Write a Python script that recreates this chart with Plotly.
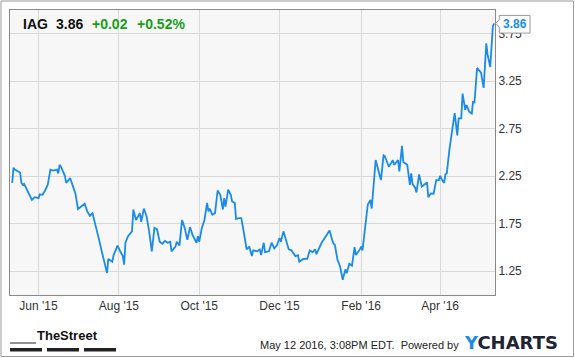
import plotly.graph_objects as go
import pandas as pd

# ---- data ----
base_date = "2015-05-12"
day_offsets = [
    0, 1, 2, 6, 7, 8, 9, 12, 15, 17, 20, 21, 23, 25, 27, 29, 31, 34, 35, 36, 37, 40, 41, 44, 46, 48, 50, 52, 55, 57, 59, 61,
    64, 66, 68, 70, 72, 73, 76, 77, 80, 82, 84, 85, 86, 88, 91, 92, 94, 97, 98, 100, 102, 104, 106, 108, 110, 112, 114, 116, 118, 120, 121, 124,
    125, 127, 129, 131, 133, 135, 137, 140, 141, 142, 144, 146, 148, 149, 150, 152, 154, 156, 158, 160, 161, 162, 164, 166, 167, 169, 170, 172, 174, 176, 178, 180, 182, 183,
    186, 188, 189, 191, 192, 195, 197, 199, 201, 203, 204, 206, 208, 210, 212, 215, 217, 218, 221, 224, 226, 228, 230, 231, 235, 238, 241, 243, 244,
    245, 247, 249, 251, 253, 254, 256, 258, 260, 261, 264, 265, 266, 269, 270, 272, 273, 276, 278, 280, 282, 283, 286, 287, 289, 290, 293, 294, 296, 297, 300, 302, 303, 304, 306,
    307, 309, 311, 313, 315, 316, 318, 320, 322, 324, 325, 326, 328, 329, 330, 332, 334, 336, 338, 339, 341, 342, 344, 345, 347, 349, 350, 351, 353, 355, 356, 358, 360, 361, 363, 365, 366,
]
prices = [
    2.18, 2.34, 2.32, 2.29, 2.18, 2.16, 2.17, 2.09, 2.00, 2.03, 2.02, 2.06, 2.055, 2.10, 2.16, 2.32, 2.31, 2.32, 2.28, 2.37, 2.35, 2.255, 2.18, 2.23, 2.16, 2.07, 1.905, 1.93, 1.96, 1.88, 1.834, 1.86,
    1.705, 1.58, 1.46, 1.35, 1.23, 1.38, 1.35, 1.42, 1.52, 1.46, 1.41, 1.32, 1.55, 1.62, 1.67, 1.90, 1.79, 1.86, 1.77, 1.91, 1.83, 1.67, 1.46, 1.705, 1.69, 1.56, 1.54, 1.57, 1.55, 1.56, 1.46, 1.51,
    1.56, 1.52, 1.79, 1.705, 1.58, 1.715, 1.63, 1.55, 1.62, 1.56, 1.705, 1.79, 1.97, 1.88, 1.91, 1.845, 1.86, 2.10, 2.055, 1.90, 2.02, 1.93, 2.11, 2.055, 1.985, 1.97, 1.80, 1.81, 1.81, 1.65, 1.48, 1.51, 1.41, 1.47,
    1.46, 1.48, 1.42, 1.55, 1.45, 1.46, 1.55, 1.49, 1.52, 1.60, 1.56, 1.67, 1.58, 1.48, 1.47, 1.41, 1.42, 1.35, 1.38, 1.38, 1.47, 1.45, 1.48, 1.43, 1.55, 1.62, 1.68, 1.58, 1.54,
    1.53, 1.37, 1.30, 1.16, 1.27, 1.23, 1.33, 1.31, 1.505, 1.42, 1.48, 1.51, 1.47, 1.86, 1.95, 2.00, 1.91, 2.42, 2.30, 2.21, 2.47, 2.46, 2.35, 2.37, 2.42, 2.37, 2.42, 2.30, 2.57, 2.40, 2.37, 2.16, 2.28, 2.17, 2.13,
    2.08, 2.27, 2.14, 2.16, 2.185, 2.03, 2.07, 2.066, 2.21, 2.21, 2.255, 2.22, 2.18, 2.27, 2.28, 2.53, 2.705, 2.915, 2.68, 2.86, 2.86, 3.12, 2.95, 3.00, 2.93, 2.91, 3.04, 3.02, 3.39, 3.36, 3.34, 3.18, 3.65, 3.53, 3.40, 3.83, 3.86,
]
x_tick_dates = ["2015-06-01", "2015-08-01", "2015-10-01", "2015-12-01", "2016-02-01", "2016-04-01"]
x_tick_labels = ["Jun '15", "Aug '15", "Oct '15", "Dec '15", "Feb '16", "Apr '16"]
y_tick_vals = [1.25, 1.75, 2.25, 2.75, 3.25, 3.75]
y_tick_labels = ["1.25", "1.75", "2.25", "2.75", "3.25", "3.75"]

ticker = "IAG"
last_price = "3.86"
change = "+0.02"
change_pct = "+0.52%"
last_value = 3.86
timestamp = "May 12 2016, 3:08PM EDT.  Powered by"

dates = pd.Timestamp(base_date) + pd.to_timedelta(day_offsets, unit="D")

BLUE = "#1a8be8"
GREEN = "#1a9e1a"
FONT = "Liberation Sans, Arial, sans-serif"

fig = go.Figure()
fig.add_trace(go.Scatter(x=dates, y=prices, mode="lines",
                         line=dict(color=BLUE, width=1.8), hoverinfo="skip"))

W, H = 575, 358
ml, mr, mt, mb = 10, 80, 10, 63
pw, ph = W - ml - mr, H - mt - mb

def px(xp):
    return (xp - ml) / pw

def py(yp):
    return (H - mb - yp) / ph

fig.update_layout(
    width=W, height=H,
    margin=dict(l=ml, r=mr, t=mt, b=mb, pad=0),
    paper_bgcolor="white",
    plot_bgcolor="#f7f7f7",
    showlegend=False,
    font=dict(family=FONT, size=12, color="#333"),
    xaxis=dict(
        range=["2015-05-10 08:00", "2016-05-12 15:00"],
        tickvals=x_tick_dates, ticktext=x_tick_labels,
        showgrid=True, gridcolor="#d9d9d9", gridwidth=1,
        showline=True, linecolor="#8a8a8a", linewidth=1, mirror=True,
        ticks="", zeroline=False, tickfont=dict(size=12, color="#333"),
        fixedrange=True,
    ),
    yaxis=dict(
        range=[1.0, 4.0], side="right",
        tickvals=y_tick_vals, ticktext=y_tick_labels,
        showgrid=True, gridcolor="#d9d9d9", gridwidth=1,
        showline=True, linecolor="#8a8a8a", linewidth=1, mirror=True,
        ticks="", zeroline=False, tickfont=dict(size=12, color="#333"),
        fixedrange=True,
    ),
)

# header
hdr_y = py(24)
for txt, xl, col in [(ticker, 21, "#111"), (last_price, 54, "#111"),
                     (change, 90, GREEN), (change_pct, 135, GREEN)]:
    fig.add_annotation(text=f"<b>{txt}</b>", xref="paper", yref="paper",
                       x=px(xl), y=hdr_y, xanchor="left", yanchor="middle",
                       showarrow=False, font=dict(size=14, color=col, family=FONT))

# last-value callout box with notch
bx0, bx1, tip = px(499.3), px(530), px(495.7)
yt, yb = 3.943, 3.757
path = (f"M {bx0},{yt} L {bx1},{yt} L {bx1},{yb} L {bx0},{yb} "
        f"L {bx0},{last_value - 0.04} L {tip},{last_value} L {bx0},{last_value + 0.04} Z")
fig.add_shape(type="path", path=path, xref="paper", yref="y",
              fillcolor="white", line=dict(color="#999", width=1), layer="above")
fig.add_annotation(text=f"<b>{last_price}</b>", xref="paper", yref="y",
                   x=(bx0 + bx1) / 2, y=3.85, xanchor="center", yanchor="middle",
                   showarrow=False, font=dict(size=12, color=BLUE, family=FONT))

# outer frame
fig.add_shape(type="rect", xref="paper", yref="paper",
              x0=px(1), x1=px(573.5), y0=py(356.5), y1=py(1),
              line=dict(color="#999", width=1), fillcolor="rgba(0,0,0,0)", layer="above")

# footer: TheStreet logo
fig.add_annotation(text="<b>TheStreet</b>", xref="paper", yref="paper",
                   x=px(35), y=py(335), xanchor="left", yanchor="middle", showarrow=False,
                   font=dict(size=13, color="#111", family="Liberation Sans Narrow, Arial Narrow, Liberation Sans, sans-serif"))
fig.add_shape(type="line", xref="paper", yref="paper", x0=px(10), x1=px(36),
              y0=py(343), y1=py(343), line=dict(color="#222", width=1))
for a, b in [(10, 42), (47, 79), (84, 116)]:
    fig.add_shape(type="rect", xref="paper", yref="paper", x0=px(a), x1=px(b),
                  y0=py(351.5), y1=py(348), fillcolor="#222", line=dict(width=0))

# footer: timestamp + YCHARTS
fig.add_annotation(text=timestamp, xref="paper", yref="paper",
                   x=px(461), y=py(345), xanchor="right", yanchor="middle", showarrow=False,
                   font=dict(size=11, color="#222", family=FONT))
fig.add_annotation(text=f"<b><span style='color:{BLUE}'>Y</span>CHARTS</b>",
                   xref="paper", yref="paper", x=px(462), y=py(342),
                   xanchor="left", yanchor="middle", showarrow=False,
                   font=dict(size=18, color="#1d2433", family="DejaVu Sans, sans-serif"))

fig.write_html("out.html", config={"displayModeBar": False})
